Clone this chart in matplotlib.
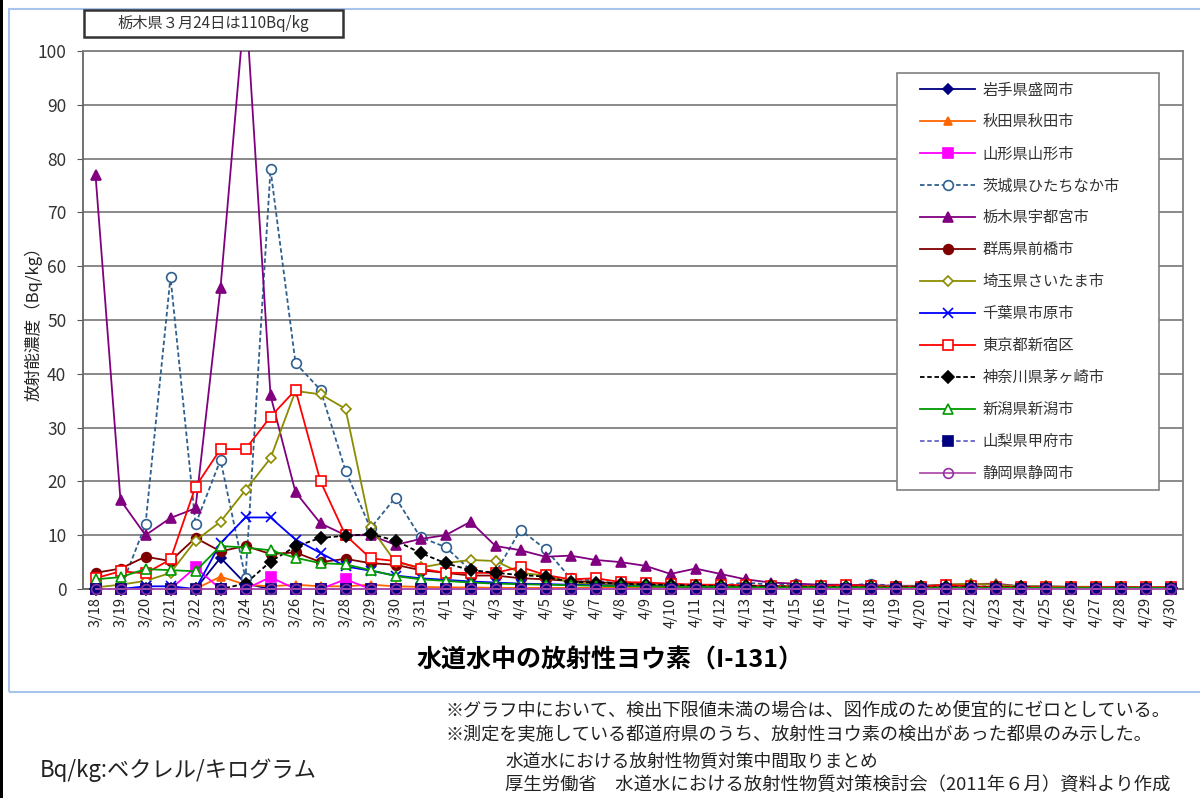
import numpy as np
import matplotlib
matplotlib.use("Agg")
import matplotlib.pyplot as plt
from matplotlib.patches import Rectangle

plt.rcParams['font.family'] = ['Noto Sans CJK JP', 'DejaVu Sans']

dates = ["3/18", "3/19", "3/20", "3/21", "3/22", "3/23", "3/24", "3/25", "3/26", "3/27",
         "3/28", "3/29", "3/30", "3/31"] + ["4/%d" % d for d in range(1, 31)]

iwate = [0, 0, 0, 0, 0, 5.8, 1, 0] + [0] * 36
akita = [0, 0, 0, 0, 0, 2.3, 0.8, 0.5, 0.8, 0.5, 0.5, 0.8, 0.5, 0.4, 0.3, 0.3] + [0.2] * 28
yamagata = [0, 0, 0, 0, 4, 0, 0, 2.2, 0, 0, 1.8] + [0] * 33
ibaraki = [0, 0, 12, 58, 12, 24, 2, 78, 42, 37, 22, 11.3, 17, 9.6, 7.8, 3.5, 3, 11, 7.4, 2,
           1.5, 1, 1, 0.8, 0.8, 0.6, 1.2, 0.8, 1, 0.6, 0.6, 1, 0.5, 0.5, 0.5, 0.5, 0.5,
           0.4, 0.4, 0.3, 0.3, 0.3, 0.3, 0.3]
tochigi = [77, 16.5, 10, 13.2, 15, 56, 110, 36, 18, 12.2, 10, 10, 8.2, 9.3, 10, 12.5, 8, 7.2,
           6, 6.2, 5.4, 5, 4.3, 2.8, 3.8, 2.8, 1.8, 1.2, 1, 0.8, 0.8, 0.7, 0.6, 0.6, 0.8, 0.9,
           1.0, 0.5, 0.5, 0.4, 0.4, 0.4, 0.3, 0.3]
gunma = [3, 3.8, 6, 5.2, 9.5, 7, 8, 6.5, 6.8, 5, 5.6, 4.8, 4.5, 3.5, 3, 2.5, 2.5, 2, 1.8, 1.5,
         1.3, 1, 0.8, 0.8, 0.7, 0.6, 0.5, 0.5, 0.5, 0.4, 0.4, 0.4, 0.3, 0.3, 0.3, 0.3, 0.3,
         0.3, 0.2, 0.2, 0.2, 0.2, 0.2, 0.2]
saitama = [0.3, 0.8, 1.5, 3, 9, 12.5, 18.4, 24.3, 36.8, 36.2, 33.5, 11.5, 5, 4, 4.8, 5.4, 5.2,
           3, 2.5, 1.2, 1, 0.8, 0.8, 0.8, 0.6, 0.5, 0.5, 0.5, 0.5, 0.5, 0.5, 0.5, 0.5, 0.5,
           0.8, 1, 0.8, 0.5, 0.5, 0.4, 0.4, 0.3, 0.3, 0.3]
chiba = [0, 0, 0.5, 0.5, 0, 8.5, 13.3, 13.3, 9.2, 6.7, 4.2, 3.4, 2.5, 2, 1.7, 1.4, 1.2, 1, 0.9,
         0.8, 0.7, 0.6, 0.5, 0.5, 0.4, 0.4, 0.3, 0.3, 0.3, 0.3, 0.2, 0.2, 0.2, 0.2, 0.2, 0.2,
         0.2, 0.2, 0.2, 0.2, 0.2, 0.2, 0.2, 0.2]
tokyo = [2, 3.3, 2.9, 5.5, 19, 26, 26, 32, 37, 20, 10, 5.7, 5.2, 3.8, 3, 3, 3, 4.1, 2.6, 1.8,
         2, 1.3, 1.2, 1, 0.8, 0.8, 0.7, 0.5, 0.5, 0.5, 0.8, 0.5, 0.4, 0.4, 0.8, 0.5, 0.4,
         0.4, 0.3, 0.3, 0.3, 0.3, 0.3, 0.3]
kanagawa = [0, 0, 0, 0, 0, 0, 1, 5.1, 7.9, 9.5, 9.9, 10.2, 9, 6.7, 4.8, 3.5, 3, 2.6, 2.3, 1.3,
            1.2, 1, 0.8, 0.8, 0.6, 0.5, 0.5, 0.5, 0.4, 0.4, 0.4, 0.3, 0.3, 0.3, 0.3, 0.3,
            0.3, 0.3, 0.2, 0.2, 0.2, 0.2, 0.2, 0.2]
niigata = [1.8, 2.2, 3.7, 3.5, 3.3, 8, 7.7, 7.2, 5.8, 4.8, 4.6, 3.5, 2.4, 1.8, 1.5, 1.2, 1,
           0.9, 0.8, 0.7, 0.6, 0.5, 0.5, 0.4, 0.4, 0.4, 0.3, 0.3, 0.3, 0.3, 0.3, 0.3, 0.2,
           0.2, 0.2, 0.2, 0.2, 0.2, 0.2, 0.2, 0.2, 0.2, 0.2, 0.2]
yamanashi = [0] * 44
shizuoka = [0] * 44

labels = ["岩手県盛岡市", "秋田県秋田市", "山形県山形市", "茨城県ひたちなか市", "栃木県宇都宮市",
          "群馬県前橋市", "埼玉県さいたま市", "千葉県市原市", "東京都新宿区", "神奈川県茅ヶ崎市",
          "新潟県新潟市", "山梨県甲府市", "静岡県静岡市"]
series = [iwate, akita, yamagata, ibaraki, tochigi, gunma, saitama, chiba, tokyo,
          kanagawa, niigata, yamanashi, shizuoka]

styles = [
    dict(color="#000080", ls="-", marker="D", ms=5, mfc="#000080", mec="#000080"),
    dict(color="#FF6600", ls="-", marker="^", ms=6, mfc="#FF6600", mec="#FF6600"),
    dict(color="#FF00FF", ls="-", marker="s", ms=7, mfc="#FF00FF", mec="#FF00FF"),
    dict(color="#2F5F8F", ls=(0, (2.5, 1.5)), marker="o", ms=7, mfc="white", mec="#2F5F8F"),
    dict(color="#800080", ls="-", marker="^", ms=7.5, mfc="#800080", mec="#800080"),
    dict(color="#800000", ls="-", marker="o", ms=7, mfc="#800000", mec="#800000"),
    dict(color="#8C8C00", ls="-", marker="D", ms=5, mfc="white", mec="#8C8C00"),
    dict(color="#0000FF", ls="-", marker="x", ms=7, mfc="#0000FF", mec="#0000FF"),
    dict(color="#FF0000", ls="-", marker="s", ms=7, mfc="white", mec="#FF0000"),
    dict(color="#000000", ls=(0, (2.5, 1.5)), marker="D", ms=6, mfc="#000000", mec="#000000"),
    dict(color="#009900", ls="-", marker="^", ms=7, mfc="white", mec="#009900"),
    dict(color="#6666CC", ls=(0, (2.5, 1.5)), marker="s", ms=7.5, mfc="#000080", mec="#000080"),
    dict(color="#B050B0", ls="-", marker="o", ms=7, mfc="none", mec="#9030A0"),
]

W, H = 1200, 798
fig = plt.figure(figsize=(W / 100, H / 100), dpi=100)


def fx(x):
    return x / W


def fy(y):
    return 1 - y / H


# outer frames
fig.patches.append(Rectangle((fx(9), fy(692)), fx(1200), fy(9) - fy(692), transform=fig.transFigure,
                             fill=False, ec="#A8C4EC", lw=1.5))
fig.patches.append(Rectangle((0, 0), fx(2.5), 1, transform=fig.transFigure, fc="black", ec="none"))

ax = fig.add_axes([fx(83), fy(589), fx(1183) - fx(83), fy(51) - fy(589)])
x = np.arange(len(dates))
for lab, vals, st in zip(labels, series, styles):
    line, = ax.plot(x, vals, label=lab, lw=1.3, color=st["color"], ls=st["ls"], marker=st["marker"],
                    ms=st["ms"], mfc=st["mfc"], mec=st["mec"], mew=1.2, zorder=3)
    clip = Rectangle((-0.01, -0.03), 1.02, 1.03, transform=ax.transAxes, fill=False)
    line.set_clip_path(clip)

ax.set_xlim(-0.5, len(dates) - 0.5)
ax.set_ylim(0, 100)
ax.set_yticks(np.arange(0, 101, 10))
ax.set_xticks(x)
ax.set_xticklabels(dates, rotation=90, fontsize=10.5, color="#222222")
ax.tick_params(axis="x", length=0, pad=6)
ax.tick_params(axis="y", length=4, color="#555555", labelsize=12.5, labelcolor="#333333", pad=8)
ax.yaxis.grid(True, color="#808080", lw=1.3)
ax.set_axisbelow(True)
for s in ["top", "right"]:
    ax.spines[s].set_color("#808080")
    ax.spines[s].set_linewidth(1.3)
for s in ["left", "bottom"]:
    ax.spines[s].set_color("#666666")
    ax.spines[s].set_linewidth(1.3)

# legend frame and legend
ax.add_patch(Rectangle((fx(897), fy(490)), fx(1159) - fx(897), fy(73) - fy(490),
                       transform=fig.transFigure, fc="white", ec="#808080", lw=1.2, zorder=4,
                       clip_on=False))
leg = ax.legend(loc="upper left", bbox_to_anchor=(fx(920), fy(81.5)), bbox_transform=fig.transFigure,
                fontsize=11, frameon=False, handlelength=3.6, handletextpad=0.5,
                labelspacing=0.98, borderpad=0, borderaxespad=0)
leg.set_zorder(5)
for t in leg.get_texts():
    t.set_color("#333333")

# annotation box
fig.patches.append(Rectangle((fx(84), fy(37)), fx(343) - fx(84), fy(10) - fy(37),
                             transform=fig.transFigure, fc="white", ec="#333333", lw=1.8))
fig.text(fx(213), fy(23.5), "栃木県３月24日は110Bq/kg", ha="center", va="center", fontsize=11,
         color="#333333")

fig.text(fx(33), fy(320), "放射能濃度（Bq/kg）", rotation=90, ha="center", va="center",
         fontsize=12, color="#222222")
fig.text(fx(610), fy(660), "水道水中の放射性ヨウ素（I-131）", ha="center", va="center",
         fontsize=18, fontweight="bold", color="black")

fig.text(fx(445), fy(712), "※グラフ中において、検出下限値未満の場合は、図作成のため便宜的にゼロとしている。",
         ha="left", va="center", fontsize=13.1, color="#222222")
fig.text(fx(445), fy(735), "※測定を実施している都道府県のうち、放射性ヨウ素の検出があった都県のみ示した。",
         ha="left", va="center", fontsize=13.1, color="#222222")
fig.text(fx(40), fy(770), "Bq/kg:ベクレル/キログラム", ha="left", va="center", fontsize=16,
         color="#222222")
fig.text(fx(505), fy(762), "水道水における放射性物質対策中間取りまとめ", ha="left", va="center",
         fontsize=12.8, color="#222222")
fig.text(fx(505), fy(785), "厚生労働省　水道水における放射性物質対策検討会（2011年６月）資料より作成",
         ha="left", va="center", fontsize=13.2, color="#222222")

fig.savefig("out.png", dpi=100)
